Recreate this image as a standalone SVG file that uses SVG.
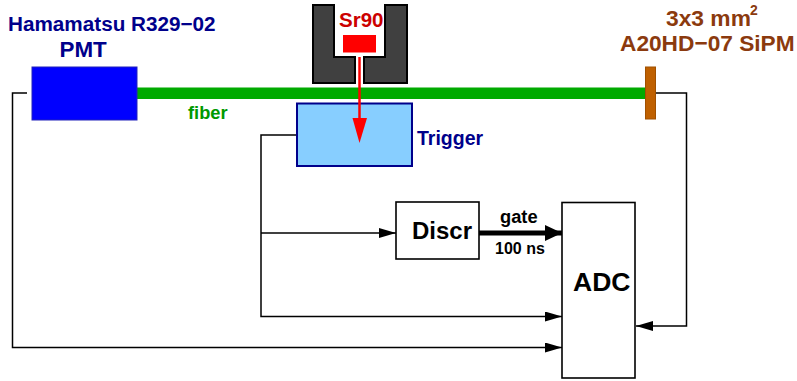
<svg xmlns="http://www.w3.org/2000/svg" width="797" height="381" viewBox="0 0 797 381">
<style>
text{font-family:"Liberation Sans",Arial,sans-serif;font-weight:bold}
.w{fill:none;stroke:#000;stroke-width:1.5}
.box{fill:#fff;stroke:#000;stroke-width:1.6}
.shield{fill:#404040;stroke:#000;stroke-width:2}
.navy{fill:#00008b}
.brown{fill:#8b3a0e}
</style>
<defs>
<marker id="a" markerUnits="userSpaceOnUse" markerWidth="17" markerHeight="10" refX="17" refY="5" orient="auto"><path d="M0,0L17,5L0,10Z" fill="#000"/></marker>
<marker id="b" markerUnits="userSpaceOnUse" markerWidth="17" markerHeight="16" refX="17" refY="8" orient="auto"><path d="M0,0L17,8L0,16Z" fill="#000"/></marker>
</defs>
<rect width="797" height="381" fill="#fff"/>
<g id="fiber"><rect x="137" y="87.500" width="509" height="11.500" fill="#00aa00"/><text x="188" y="119" font-size="18.300" fill="#009900">fiber</text></g>
<g id="connectors">
<path class="w" d="M27,93H12.500V347.500H562" marker-end="url(#a)"/>
<path class="w" d="M297,135H261V316.500H562" marker-end="url(#a)"/>
<path class="w" d="M261,233H396" marker-end="url(#a)"/>
<path class="w" d="M655,93H686.500V326H636" marker-end="url(#a)"/>
<path d="M479,233H562" fill="none" stroke="#000" stroke-width="5" marker-end="url(#b)"/>
</g>
<g id="pmt"><rect x="32" y="67" width="105" height="53" fill="#0000ff" stroke="#2222bb"/><text x="8" y="31" font-size="20.700" class="navy">Hamamatsu R329−02</text><text x="59.500" y="57" font-size="22.400" class="navy">PMT</text></g>
<g id="sipm"><rect x="645.500" y="67" width="10" height="52" fill="#bf6000" stroke="#a05000"/><text x="666" y="26" font-size="22.800" class="brown">3x3 mm</text><text x="750" y="15" font-size="14" class="brown">2</text><text x="620" y="51" font-size="22.700" class="brown">A20HD−07 SiPM</text></g>
<g id="trigger"><rect x="297" y="103.500" width="115" height="62.500" fill="#87ceff" stroke="#00008b" stroke-width="2"/><text x="417" y="145" font-size="19.500" class="navy">Trigger</text></g>
<g id="source">
<path class="shield" d="M313,5H334V57H355V83H313Z"/><path class="shield" d="M407,5H385V57H364V83H407Z"/>
<text x="339" y="27" font-size="20.500" fill="#cc0000">Sr90</text>
<rect x="343" y="35" width="33" height="17.500" fill="#ff0000"/>
<path d="M359.500,57V120" stroke="#ff0000" stroke-width="2.500" fill="none"/><path d="M352.500,118H367L359.500,143Z" fill="#ff0000"/>
</g>
<g id="discr"><rect class="box" x="396" y="202" width="83" height="57"/><text x="412" y="239" font-size="24">Discr</text></g>
<g id="gate"><text x="500" y="223" font-size="18.300">gate</text><text x="495" y="254" font-size="16">100 ns</text></g>
<g id="adc"><rect class="box" x="562" y="202.500" width="73" height="175.500"/><text x="573" y="291" font-size="26.500">ADC</text></g>
</svg>
